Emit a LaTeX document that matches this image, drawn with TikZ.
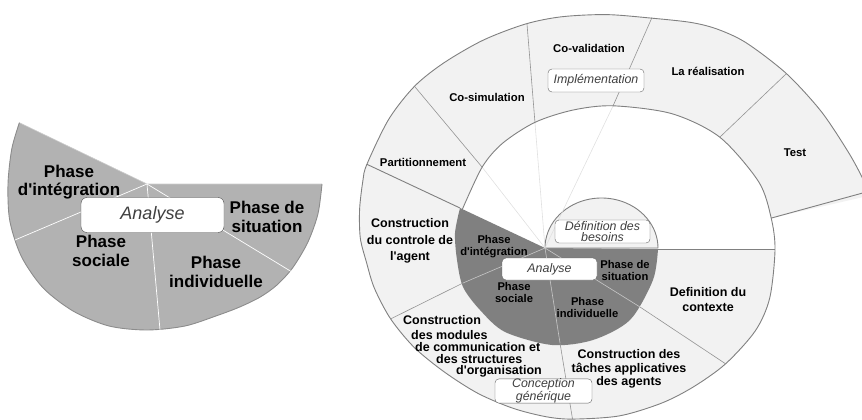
\documentclass[tikz,border=0pt]{standalone}
\usepackage{fontspec}
\setmainfont{Liberation Sans}[Ligatures=TeXOff]
\usetikzlibrary{positioning}

\definecolor{ringfill}{HTML}{F2F2F2}
\definecolor{phasefill}{HTML}{808080}
\definecolor{leftfill}{HTML}{B2B2B2}
\definecolor{spiralline}{HTML}{808080}

\begin{document}
\begin{tikzpicture}[x=1pt, y=-1pt,
    spiraledge/.style={draw=spiralline, line width=0.9pt},
    sectorline/.style={draw=black!42, line width=0.6pt},
    faintline/.style={draw=black!12, line width=0.6pt},
    phaseline/.style={draw=black!22, line width=0.6pt},
    bigphase/.style={font=\bfseries\fontsize{17}{18.5}\selectfont, align=center, inner sep=0pt},
    phaselabel/.style={font=\bfseries\fontsize{11.2}{12}\selectfont, align=center, inner sep=0pt},
    uplabel/.style={font=\bfseries\fontsize{11.3}{13}\selectfont, align=center, inner sep=0pt},
    lowlabel/.style={font=\bfseries\fontsize{12.5}{13.5}\selectfont, align=center, inner sep=0pt},
    stagebox/.style={draw=black!60, fill=white, rounded corners=4pt, inner sep=0pt, align=center, text=black!75, font=\itshape\fontsize{12.4}{11}\selectfont}
]

\useasboundingbox (0,0) rectangle (862,420);
\clip (0,0) rectangle (862,420);

% Left diagram: Analyse
\fill[leftfill] (147,184) -- plot[smooth] coordinates {(19.4,122.7) (11.8,148.8) (8,184) (9.8,220.8) (21.4,256.5) (43.1,287.9) (73.5,311.3) (109,326) (147,330) (185,326) (217,315.6) (239.7,307) (260.1,297.1) (276.6,285.3) (292.5,268) (307.7,242.5) (317.9,214.1) (322,184)} -- cycle;
\draw[black!20, line width=0.6pt] (19.4,122.7) -- (147,184) -- (322,184);
\draw[spiraledge, draw=black!45] plot[smooth] coordinates {(19.4,122.7) (11.8,148.8) (8,184) (9.8,220.8) (21.4,256.5) (43.1,287.9) (73.5,311.3) (109,326) (147,330) (185,326) (217,315.6) (239.7,307) (260.1,297.1) (276.6,285.3) (292.5,268) (307.7,242.5) (317.9,214.1) (322,184)};
\draw[white, line width=0.7pt] (147,184) -- (15,240);
\draw[white, line width=0.7pt] (147,184) -- (160,330);
\draw[white, line width=0.7pt] (147,184) -- (292,272);

% Right diagram: upper ring
\fill[ringfill] plot[smooth] coordinates {(366.9,164.3) (388.7,119.3) (414.5,86.3) (443.8,62.9) (483.1,40.2) (525.2,24.1) (561.4,16.8) (606.5,14.6) (652.1,18.2) (691.3,22.5) (717.5,29.2) (746.2,42.8) (786.2,73.4) (821,111.2) (847.7,151.1) (862,177.1) (869.8,195.6)}
  -- (771.2,218.1) -- plot[smooth] coordinates {(771.2,218.1) (758.7,181.8) (719.8,137.2) (671.9,113.7) (612.8,105.8) (572.8,110.1) (534.8,122.4) (502.4,143.4) (482.1,167.2) (462.1,209.9)} -- cycle;
% lower ring
\fill[ringfill] plot[smooth] coordinates {(775,250) (769.7,298.1) (755.4,330.7) (725.6,363.8) (693.2,387) (661.4,403.2) (619.3,415.9) (572.2,419.1) (545.4,416.6) (512.8,408.2) (478,393.4) (444.5,372.1) (414.2,347.4) (390.5,318.7) (374.3,288) (366.3,261.7) (360.3,238) (359.6,209.4) (362.9,180.6) (366.9,164.3)}
  -- (460,208) -- plot[smooth] coordinates {(460,208) (455,233) (457,260) (463,287) (480,310) (505,332) (552,345) (593,340) (630,320) (653,280) (658,249)} -- cycle;
% inner phases
\fill[phasefill] (545,248) -- plot[smooth] coordinates {(460,208) (455,233) (457,260) (463,287) (480,310) (505,332) (552,345) (593,340) (630,320) (653,280) (658,249)} -- cycle;
\filldraw[fill=ringfill, spiraledge] (545,248) -- plot[smooth, domain=0:180, samples=40] ({601.5-56.5*cos(\x)}, {248-50*sin(\x)}) -- cycle;

% lines in the white and dark parts
\draw[faintline] (545,248) -- (482,167);
\draw[faintline] (545,248) -- (535,123);
\draw[faintline] (545,248) -- (613,106);
\draw[phaseline] (545,248) -- (463,283);
\draw[phaseline] (545,248) -- (560,343);
\draw[phaseline] (545,248) -- (640,307);

% sector lines
\draw[sectorline] (414.5,86.3) -- (482,167);
\draw[sectorline] (527,24) -- (535,123);
\draw[sectorline] (652,17.5) -- (613,106);
\draw[sectorline] (786,74) -- (720,137);
\draw[sectorline] (390.5,319) -- (463,283);
\draw[sectorline] (560,343) -- (572.5,419);
\draw[sectorline] (640,307) -- (725.6,363.8);

% spiral
\draw[spiraledge] plot[smooth] coordinates {(462.1,209.9) (482.1,167.2) (502.4,143.4) (534.8,122.4) (572.8,110.1) (612.8,105.8) (671.9,113.7) (719.8,137.2) (758.7,181.8) (771.2,218.1) (775,250) (769.7,298.1) (755.4,330.7) (725.6,363.8) (693.2,387) (661.4,403.2) (619.3,415.9) (572.2,419.1) (545.4,416.6) (512.8,408.2) (478,393.4) (444.5,372.1) (414.2,347.4) (390.5,318.7) (374.3,288) (366.3,261.7) (360.3,238) (359.6,209.4) (362.9,180.6) (366.9,164.3) (388.7,119.3) (414.5,86.3) (443.8,62.9) (483.1,40.2) (525.2,24.1) (561.4,16.8) (606.5,14.6) (652.1,18.2) (691.3,22.5) (717.5,29.2) (746.2,42.8) (786.2,73.4) (821,111.2) (847.7,151.1) (862,177.1) (869.8,195.6)};
\draw[spiraledge] (366.9,164.3) -- (460,208);
\draw[spiraledge] (771.2,218.1) -- (870,191);
\draw[spiraledge] (658,249) -- (775,249);

% Nodes
\node[stagebox, minimum width=143pt, minimum height=35pt, rounded corners=6pt, draw=black!70, font=\itshape\fontsize{18}{20}\selectfont] (analyseL) at (152.5,215) {Analyse};
\node[bigphase] (integL) at (69,182) {Phase\\d'intégration};
\node[bigphase] (socialeL) at (101,251) {Phase\\sociale};
\node[bigphase] (indivL) at (216,272) {Phase\\individuelle};
\node[bigphase] (situL) at (267,217) {Phase de\\situation};

\node[stagebox, minimum width=95pt, minimum height=22pt] (analyseR) at (549.5,269) {Analyse};
\node[stagebox, minimum width=96pt, minimum height=23pt] (implem) at (596,80.5) {Implémentation};
\node[stagebox, minimum width=95pt, minimum height=23pt] (besoins) at (602.5,231.5) {Définition des\\besoins};
\node[stagebox, minimum width=97pt, minimum height=24pt] (conception) at (543.5,391) {Conception\\générique};

\node[phaselabel] (integR) at (494,247) {Phase\\d'intégration};
\node[phaselabel] (situR) at (625,270.5) {Phase de\\situation};
\node[phaselabel] (socialeR) at (514,292.5) {Phase\\sociale};
\node[phaselabel] (indivR) at (587.5,307) {Phase\\individuelle};

\node[uplabel] (partition) at (423,162) {Partitionnement};
\node[uplabel] (cosim) at (487,97) {Co-simulation};
\node[uplabel] (coval) at (589,48) {Co-validation};
\node[uplabel] (realis) at (708,71) {La réalisation};
\node[uplabel] (test) at (795,153) {Test};

\node[lowlabel, font=\bfseries\fontsize{12.5}{16.5}\selectfont] (controle) at (410,241) {Construction\\du controle de\\l'agent};
\node[lowlabel, align=left, anchor=north west, font=\bfseries\fontsize{12.5}{11.8}\selectfont] (modules) at (403,315.5) {Construction\\[3pt]\hspace*{8pt}des modules\\\hspace*{12pt}de communication et\\\hspace*{33pt}des structures\\\hspace*{53pt}d'organisation};
\node[lowlabel] (taches) at (629,369) {Construction des\\tâches applicatives\\des agents};
\node[lowlabel, font=\bfseries\fontsize{12.5}{15}\selectfont] (contexte) at (708,300) {Definition du\\contexte};

\end{tikzpicture}
\end{document}
